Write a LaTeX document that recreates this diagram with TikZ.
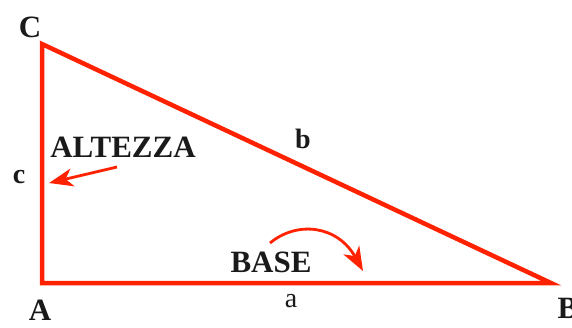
\documentclass[tikz,border=0pt]{standalone}
\usepackage{fontspec}
\setmainfont{Liberation Serif}
\usetikzlibrary{arrows.meta,positioning}
\definecolor{cR}{HTML}{FF2200}
\definecolor{cK}{HTML}{1A1A1A}
\tikzset{
  side/.style={line width=4.5pt,draw=cR,line join=miter},
  vlabel/.style={anchor=base,inner sep=0pt,text=cK,font=\fontsize{31}{31}\selectfont\bfseries},
  slabel/.style={anchor=base,inner sep=0pt,text=cK,font=\fontsize{28}{28}\selectfont\bfseries},
  tag/.style={anchor=base,inner sep=0pt,text=cK,font=\fontsize{31}{31}\selectfont\bfseries},
  hint/.style={-{Stealth[length=24pt,width=18pt,inset=7pt]},line width=2.8pt,cR},
}
\begin{document}
\begin{tikzpicture}[x=1pt,y=-1pt]
  \useasboundingbox (0,0) rectangle (572,327);
  % vertices
  \coordinate (A) at (42,283);
  \coordinate (B) at (551,283);
  \coordinate (C) at (42,44);
  \draw[side] (A) -- (B) -- (C) -- cycle;
  \node[vlabel] (lC) at (30,37) {C};
  \node[vlabel] (lA) at (40,320) {A};
  \node[vlabel] (lB) at (568,318) {B};
  % sides
  \node[slabel] (lc) at (19,183) {c};
  \node[slabel] (lb) at (303,148) {b};
  \node[slabel,font=\fontsize{28}{28}\selectfont] (la) at (291,307) {a};
  % height and base
  \node[tag] (alt) at (123,157) {ALTEZZA};
  \node[tag] (base) at (271,272) {BASE};
  \coordinate (altS) at (117,167);
  \coordinate (altE) at (49,183);
  \draw[hint] (altS) -- (altE);
  \coordinate (baseS) at (270,243);
  \coordinate (baseE) at (363,271);
  \draw[hint] (baseS) .. controls (298,220) and (338,226) .. (baseE);
\end{tikzpicture}
\end{document}
